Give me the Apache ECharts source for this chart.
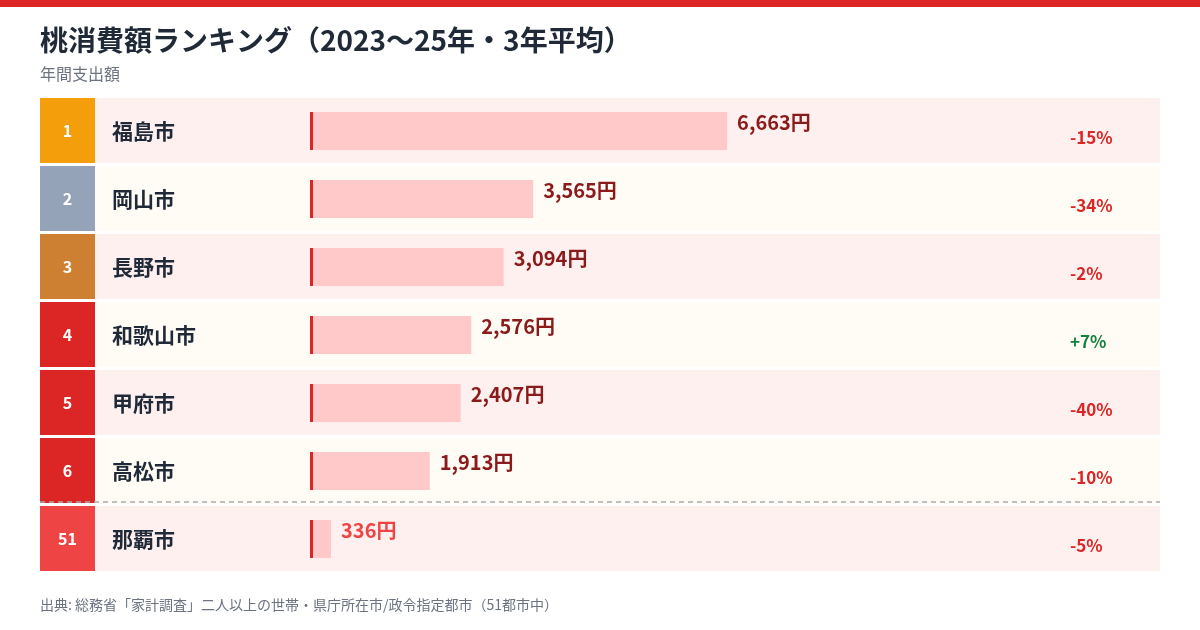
<!DOCTYPE html>
<html><head><meta charset="utf-8">
<script src="https://cdn.jsdelivr.net/npm/echarts@6/dist/echarts.min.js"></script>
<style>html,body{margin:0;padding:0;background:#fff}#c{width:1200px;height:630px}</style>
</head><body><div id="c"></div>
<script>
const ranks = ['1','2','3','4','5','6','51'];
const cities = ['福島市','岡山市','長野市','和歌山市','甲府市','高松市','那覇市'];
const values = [6663,3565,3094,2576,2407,1913,336];
const changes = ['-15%','-34%','-2%','+7%','-40%','-10%','-5%'];
const rankColors = ['#f59e0b','#94a3b8','#cd7f32','#dc2626','#dc2626','#dc2626','#ef4444'];
const F = '"Noto Sans CJK JP", "Noto Sans", sans-serif';
const chart = echarts.init(document.getElementById('c'));
chart.setOption({
  animation:false,
  graphic:[
    {type:'rect',shape:{x:0,y:0,width:1200,height:7},style:{fill:'#dc2626'}},
    {type:'text',left:40,top:26,style:{text:'桃消費額ランキング（2023〜25年・3年平均）',font:'bold 28px '+F,fill:'#1f2937'}},
    {type:'text',left:40,top:66,style:{text:'年間支出額',font:'16px '+F,fill:'#6b7280'}},
    {type:'line',z:100,shape:{x1:40,y1:502,x2:1160,y2:502},style:{stroke:'#aaa',lineWidth:1.5,lineDash:[5,4]}},
    {type:'text',left:40,top:598,style:{text:'出典: 総務省「家計調査」二人以上の世帯・県庁所在市/政令指定都市（51都市中）',font:'14px '+F,fill:'#6b7280'}}
  ],
  grid:{left:310,right:264,top:98,height:476},
  xAxis:{type:'value',min:0,max:10000,show:false},
  yAxis:{type:'category',data:cities,inverse:true,show:false},
  series:[{
    type:'custom',
    data:values.map((v,i)=>[v,i]),
    renderItem:(params,api)=>{
      const i = api.value(1);
      const end = api.coord([api.value(0),i]);
      const start = api.coord([0,i]);
      const band = api.size([0,1])[1];
      const top = start[1]-band/2;
      const cy = top+33;
      const last = i===6;
      return {type:'group',children:[
        {type:'rect',shape:{x:40,y:top,width:1120,height:65},style:{fill:(i%2===0||last)?'#fff0f0':'#fffbf5'}},
        {type:'rect',shape:{x:40,y:top,width:55,height:65},style:{fill:rankColors[i]}},
        {type:'text',style:{text:ranks[i],x:67.5,y:cy,align:'center',verticalAlign:'middle',font:'bold 16px '+F,fill:'#fff'}},
        {type:'text',style:{text:cities[i],x:112,y:cy,verticalAlign:'middle',font:'bold 21px '+F,fill:'#1f2937'}},
        {type:'rect',shape:{x:start[0],y:cy-19,width:end[0]-start[0],height:38},style:{fill:'#ffc9c9'}},
        {type:'rect',shape:{x:start[0],y:cy-19,width:3,height:38},style:{fill:'#dc2626'}},
        {type:'text',style:{text:values[i].toLocaleString('en-US')+'円',x:end[0]+10,y:cy-9,verticalAlign:'middle',font:'bold 20px '+F,fill:last?'#ef4444':'#8b1a1a'}},
        {type:'text',style:{text:changes[i],x:1070,y:cy+7,verticalAlign:'middle',font:'bold 17px '+F,fill:changes[i][0]==='+'?'#15803d':'#dc2626'}}
      ]};
    }
  }]
});
</script></body></html>
